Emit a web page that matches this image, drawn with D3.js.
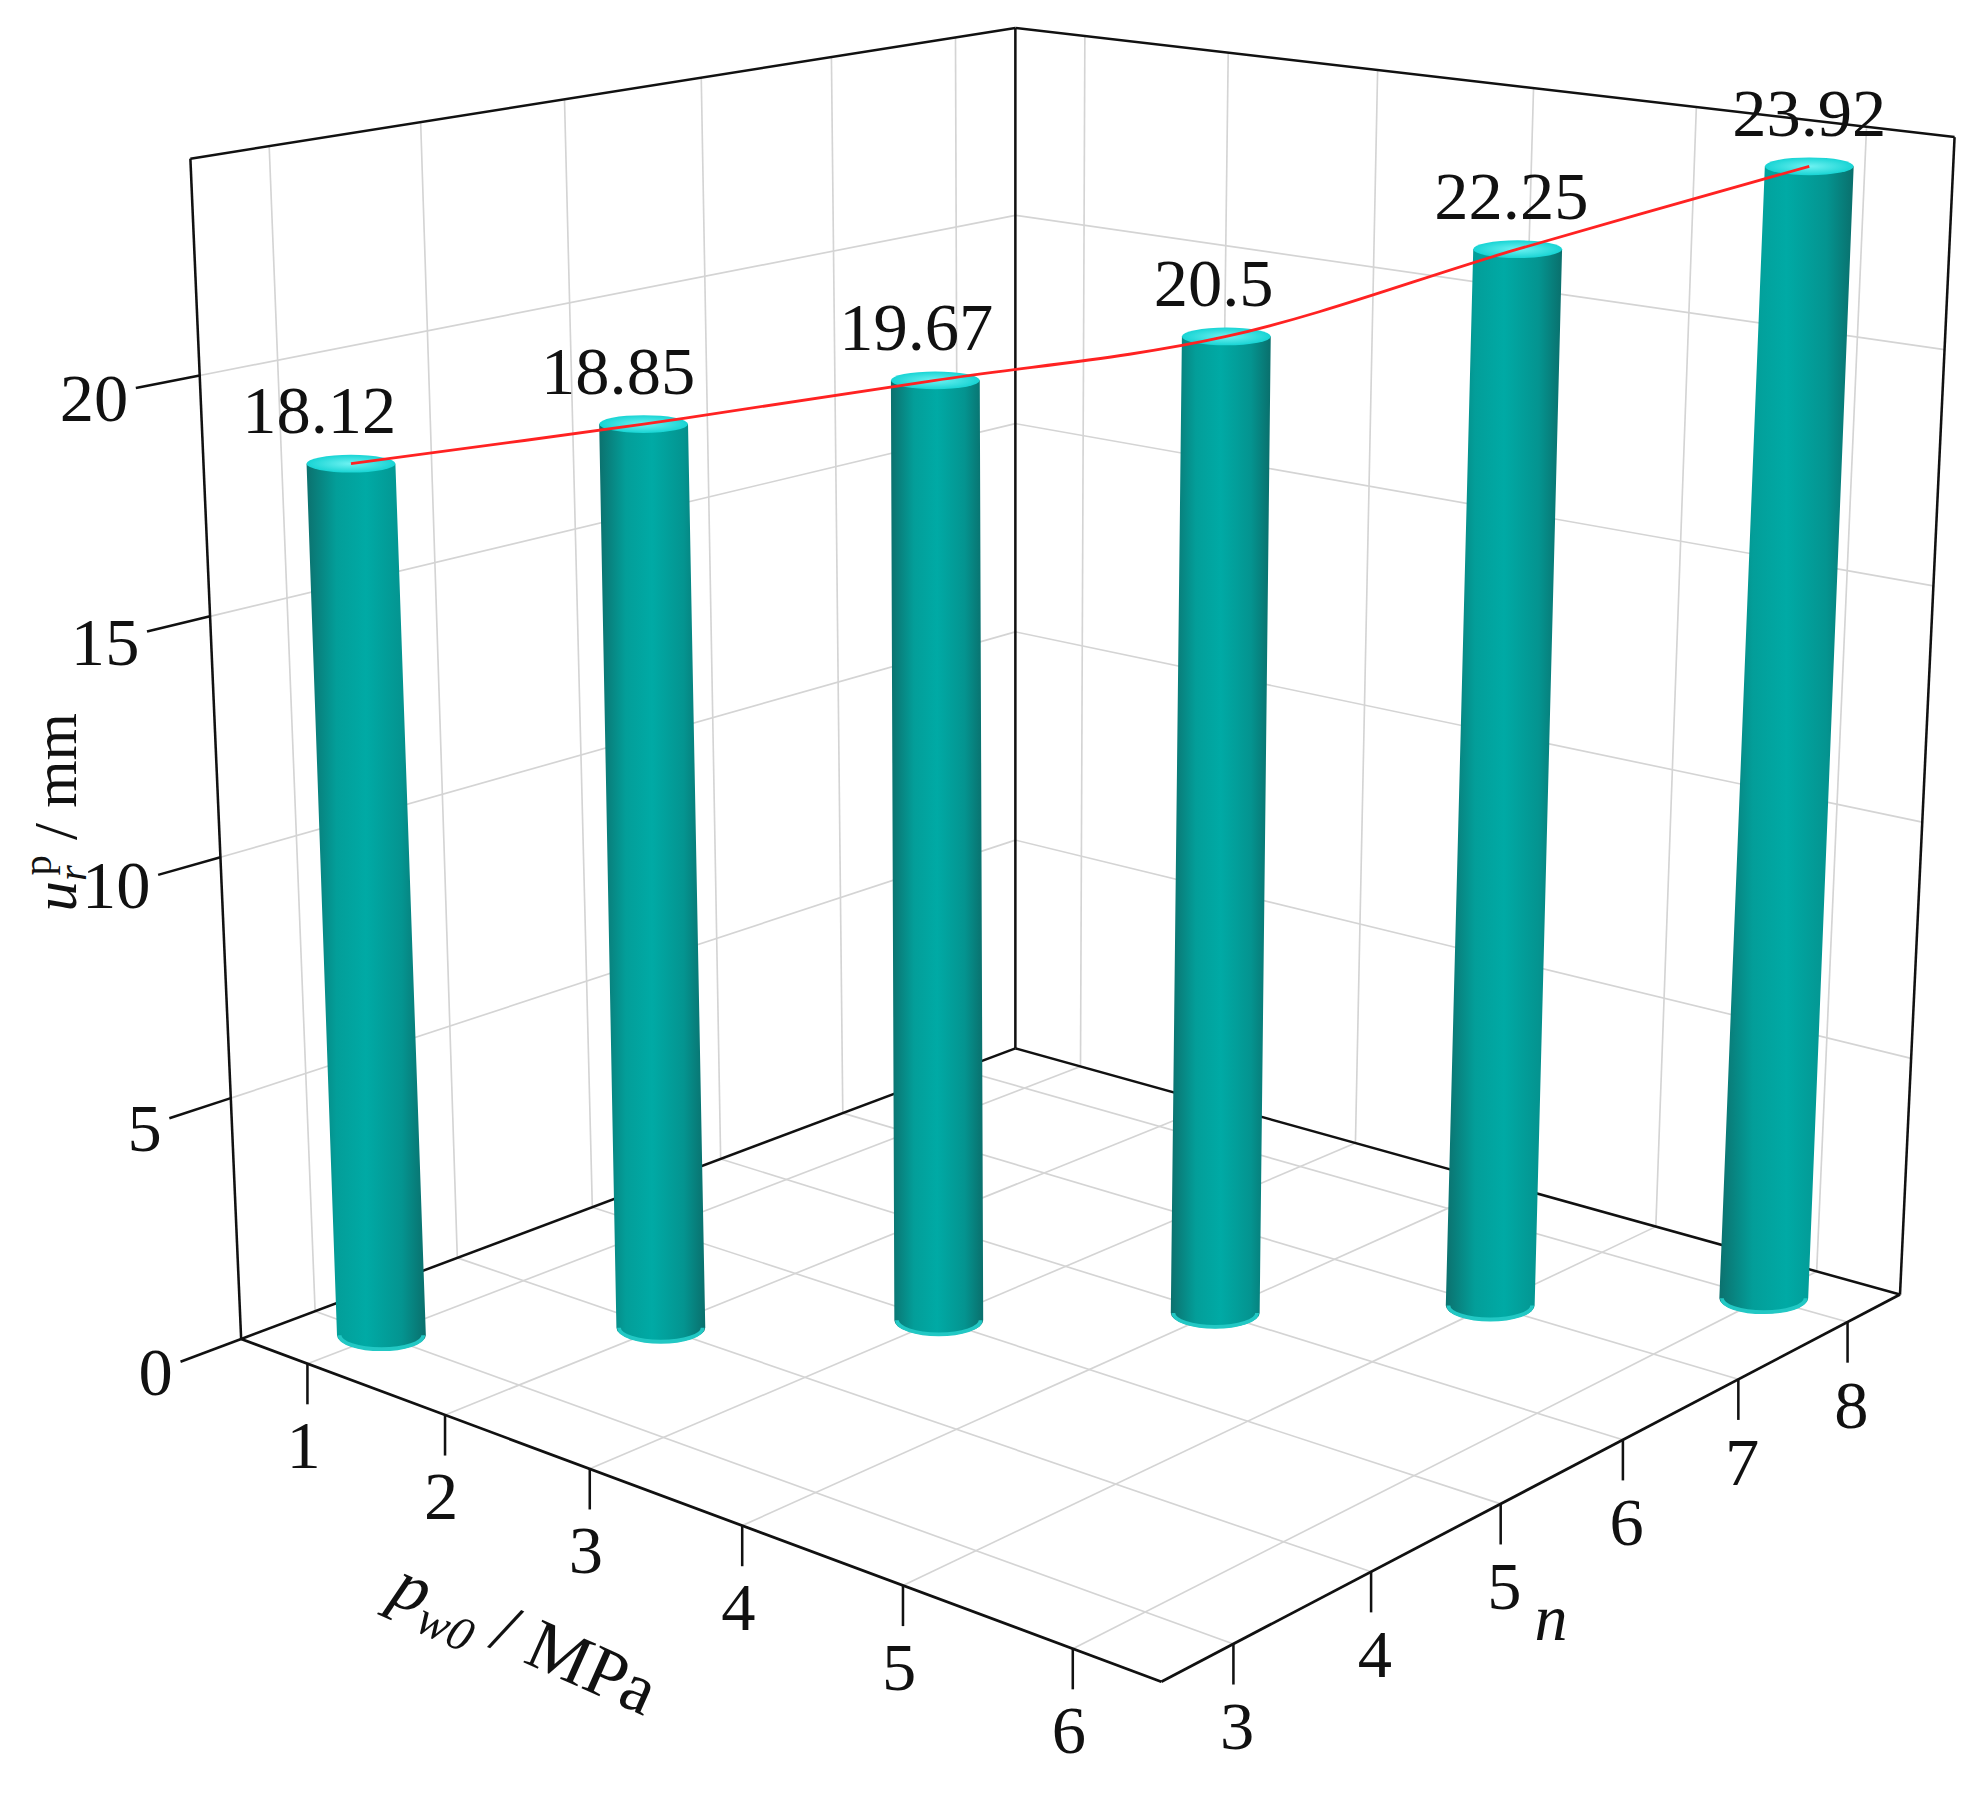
<!DOCTYPE html>
<html><head><meta charset="utf-8">
<script src="https://cdn.jsdelivr.net/npm/d3@7"></script>
<style>body{margin:0;background:#fff}</style>
</head><body>
<svg id="chart" width="1980" height="1801"></svg>
<script>
const pwTicks = [1, 2, 3, 4, 5, 6];
const nTicks = [3, 4, 5, 6, 7, 8];
const zTicks = [0, 5, 10, 15, 20];
const barPw = [1, 2, 3, 4, 5, 6];
const barN = [3, 4, 5, 6, 7, 8];
const barVal = [18.12, 18.85, 19.67, 20.5, 22.25, 23.92];

const svg = d3.select('#chart');
const g = svg.append('g').attr('transform', 'scale(1.2692)');
const font = "'Liberation Serif', 'Times New Roman', Times, serif";

// scales from data to unit box
const su = d3.scaleLinear().domain([0.5, 6.5]).range([0, 1]);
const sv = d3.scaleLinear().domain([2.5, 8.5]).range([0, 1]);
const sz = d3.scaleLinear().domain([0, 24.5]).range([0, 1]);

// homography from unit square to 4 image points (00,10,11,01)
function homography(p) {
  const src = [[0,0],[1,0],[1,1],[0,1]];
  const A = [], b = [];
  for (let i = 0; i < 4; i++) {
    const [u, v] = src[i], [x, y] = p[i];
    A.push([u, v, 1, 0, 0, 0, -u*x, -v*x]); b.push(x);
    A.push([0, 0, 0, u, v, 1, -u*y, -v*y]); b.push(y);
  }
  for (let c = 0; c < 8; c++) {
    let m = c;
    for (let r = c+1; r < 8; r++) if (Math.abs(A[r][c]) > Math.abs(A[m][c])) m = r;
    [A[c], A[m]] = [A[m], A[c]]; [b[c], b[m]] = [b[m], b[c]];
    for (let r = 0; r < 8; r++) {
      if (r === c) continue;
      const f = A[r][c] / A[c][c];
      for (let k = c; k < 8; k++) A[r][k] -= f*A[c][k];
      b[r] -= f*b[c];
    }
  }
  const h = b.map((v, i) => v / A[i][i]);
  return (u, v) => {
    const w = h[6]*u + h[7]*v + 1;
    return [(h[0]*u + h[1]*v + h[2]) / w, (h[3]*u + h[4]*v + h[5]) / w];
  };
}
// corners: (pw0,n0) left, (pw1,n0) front, (pw1,n1) right, (pw0,n1) back
const H0 = homography([[190,1055],[915,1325],[1497,1020],[800,826]]);
const H1 = homography([[150,125],[923,244],[1540,108],[800,22]]);
function P(pw, n, z) {
  const u = su(pw), v = sv(n), t = sz(z);
  const a = H0(u, v), c = H1(u, v);
  return [a[0] + (c[0]-a[0])*t, a[1] + (c[1]-a[1])*t];
}
const line = (a, b, col, w) => g.append('line')
  .attr('x1', a[0]).attr('y1', a[1]).attr('x2', b[0]).attr('y2', b[1])
  .attr('stroke', col).attr('stroke-width', w);
const grid = '#d4d4d4', zTop = 24.5;

// wall and floor grids
nTicks.forEach(n => line(P(0.5, n, 0), P(0.5, n, zTop), grid, 1.3));
pwTicks.forEach(p => line(P(p, 8.5, 0), P(p, 8.5, zTop), grid, 1.3));
zTicks.slice(1).forEach(z => {
  line(P(0.5, 2.5, z), P(0.5, 8.5, z), grid, 1.3);
  line(P(0.5, 8.5, z), P(6.5, 8.5, z), grid, 1.3);
});
pwTicks.forEach(p => line(P(p, 2.5, 0), P(p, 8.5, 0), grid, 1.3));
nTicks.forEach(n => line(P(0.5, n, 0), P(6.5, n, 0), grid, 1.3));

// box edges
const k = '#111';
line(P(0.5,2.5,0), P(0.5,2.5,zTop), k, 2);
line(P(0.5,2.5,zTop), P(0.5,8.5,zTop), k, 2);
line(P(0.5,8.5,0), P(0.5,8.5,zTop), k, 2);
line(P(0.5,8.5,zTop), P(6.5,8.5,zTop), k, 2);
line(P(6.5,8.5,0), P(6.5,8.5,zTop), k, 2);
line(P(0.5,2.5,0), P(6.5,2.5,0), k, 2.2);
line(P(6.5,2.5,0), P(6.5,8.5,0), k, 2.2);
line(P(0.5,2.5,0), P(0.5,8.5,0), k, 2);
line(P(0.5,8.5,0), P(6.5,8.5,0), k, 2);

// ticks and tick labels
const txt = (x, y, s, size, anchor) => g.append('text').attr('x', x).attr('y', y)
  .attr('font-family', font).attr('font-size', size).attr('text-anchor', anchor || 'middle')
  .attr('dominant-baseline', 'central').attr('fill', '#111').text(s);
zTicks.forEach(z => {
  const a = P(0.5, 2.5, z), b = P(0.5, 2.1, z);
  line(a, b, k, 2);
  txt(b[0] - 6, b[1] + 8, z, 54, 'end');
});
pwTicks.forEach(p => {
  const a = P(p, 2.5, 0);
  line(a, [a[0], a[1] + 32], k, 2);
  txt(a[0] - 3, a[1] + 64, p, 54);
});
nTicks.forEach(n => {
  const a = P(6.5, n, 0);
  line(a, [a[0], a[1] + 32], k, 2);
  txt(a[0] + 3, a[1] + 65, n, 54);
});

// axis titles
const zt = g.append('text').attr('transform', 'translate(60,640) rotate(-90)')
  .attr('font-family', font).attr('font-size', 48).attr('text-anchor', 'middle').attr('fill', '#111');
zt.append('tspan').attr('font-style', 'italic').text('u');
zt.append('tspan').attr('font-style', 'italic').attr('font-size', 32).attr('dy', 8).text('r');
zt.append('tspan').attr('font-size', 32).attr('dx', -8).attr('dy', -28).text('p');
zt.append('tspan').attr('dy', 20).text(' / mm');
const xt = g.append('text').attr('transform', 'translate(305,1262) rotate(24)')
  .attr('font-family', font).attr('font-size', 56).attr('fill', '#111');
xt.append('tspan').attr('font-style', 'italic').text('p');
xt.append('tspan').attr('font-style', 'italic').attr('font-size', 38).attr('dy', 12).text('w0');
xt.append('tspan').attr('dy', -12).text(' / MPa');
g.append('text').attr('x', 1222).attr('y', 1292).attr('font-family', font).attr('font-style', 'italic')
  .attr('font-size', 52).attr('text-anchor', 'middle').attr('fill', '#111').text('n');

// cylinder gradients
const defs = svg.append('defs');
const body = defs.append('linearGradient').attr('id', 'body');
[[0,'#0c716e'],[0.25,'#039e99'],[0.5,'#00aaa5'],[0.8,'#049490'],[1,'#0a6f6c']]
  .forEach(([o, c]) => body.append('stop').attr('offset', o).attr('stop-color', c));
const cap = defs.append('radialGradient').attr('id', 'cap');
[[0,'#6ff2f2'],[1,'#18d4d4']].forEach(([o, c]) => cap.append('stop').attr('offset', o).attr('stop-color', c));

const r = 35;
const tops = [];
barVal.forEach((v, i) => {
  const b = P(barPw[i], barN[i], 0), t = P(barPw[i], barN[i], v);
  const ryB = 12, ryT = 7;
  g.append('path').attr('fill', 'url(#body)')
    .attr('d', `M${t[0]-r},${t[1]} L${b[0]-r},${b[1]} A${r},${ryB} 0 0 0 ${b[0]+r},${b[1]} L${t[0]+r},${t[1]} Z`);
  g.append('path').attr('fill', 'none').attr('stroke', '#22c8c4').attr('stroke-width', 3)
    .attr('d', `M${b[0]-r+2},${b[1]} A${r-2},${ryB-1} 0 0 0 ${b[0]+r-2},${b[1]}`);
  g.append('ellipse').attr('cx', t[0]).attr('cy', t[1]).attr('rx', r).attr('ry', ryT).attr('fill', 'url(#cap)');
  tops.push(t);
  txt(t[0] - 25 + i * 5, t[1] - 42, v, 54);
});

g.append('path').attr('fill', 'none').attr('stroke', '#ff2222').attr('stroke-width', 2.2)
  .attr('d', d3.line().curve(d3.curveCatmullRom)(tops));
</script>
</body></html>
